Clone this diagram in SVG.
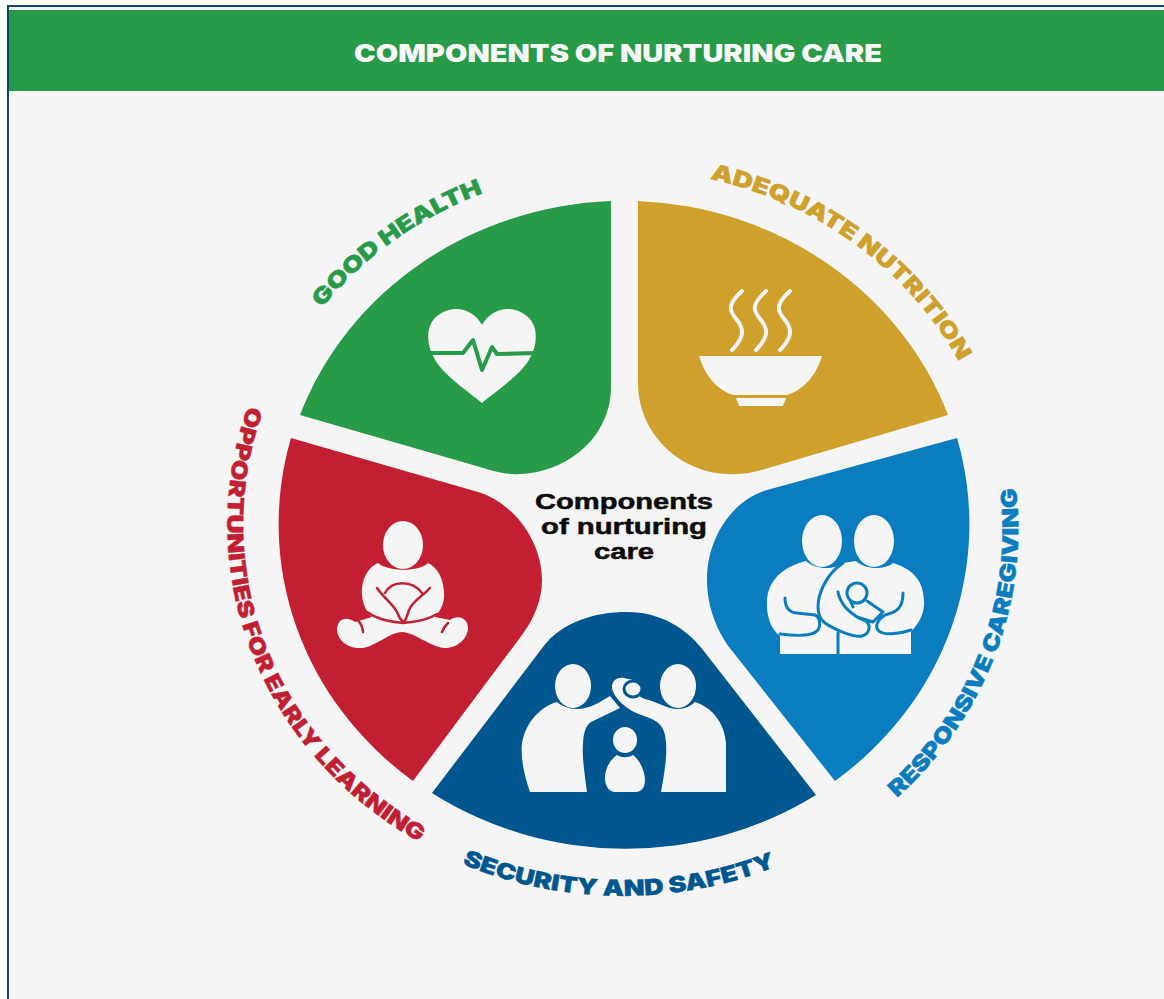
<svg xmlns="http://www.w3.org/2000/svg" width="1164" height="999" viewBox="0 0 1164 999">
<style>
.lab{font-family:"Inter","Liberation Sans",sans-serif;font-weight:900;font-size:22px;stroke-width:.4}
.mid{font-family:"Liberation Sans",sans-serif;font-weight:700;font-size:22px;text-anchor:middle;fill:#0b0b0b;stroke:#0b0b0b;stroke-width:.5}
.ic{fill:#f5f5f5}
.st{fill:none;stroke-linecap:round;stroke-linejoin:round}
</style>
<defs>
<path id="pGood" d="M322 308 A380 357 0 0 1 560 173"/>
<path id="pAdq" d="M710 179 A378 355 0 0 1 1001 525"/>
<path id="pResp" d="M897 798 A397 373 0 0 0 985 380"/>
<path id="pSec" d="M462 864 A394 370 0 0 0 800 856"/>
<path id="pOpp" d="M248 406 A394 370 0 0 0 470 866"/>
</defs>
<rect width="1164" height="999" fill="#ffffff"/>
<rect x="7" y="5" width="1157" height="994" fill="#0f4470"/>
<rect x="9" y="7" width="1155" height="992" fill="#f5f5f5"/>
<g id="header">
<rect x="9" y="10" width="1155" height="81" fill="#279b48"/>
<text x="618" y="62" text-anchor="middle" textLength="528" lengthAdjust="spacingAndGlyphs" style="font-family:Inter,'Liberation Sans',sans-serif;font-weight:900;font-size:24px" fill="#f7f7f7">COMPONENTS OF NURTURING CARE</text>
</g>
<g id="connectors"></g>
<g id="good-health">
<path fill="#279b48" d="M611 201 A345.5 324.5 0 0 0 300 415 L480 467 C495 472 508 475 520 474 C570 472 611 435 611 387 Z"/>
<path class="ic" d="M482 403 C470 393 442 374 434 358 C425 342 426 322 440 314 C455 304 474 310 482 325 C490 310 509 304 524 314 C538 322 539 342 530 358 C522 374 494 393 482 403Z"/>
<path class="st" stroke="#279b48" stroke-width="4" d="M427 353 L463 353 L473 340 L482 370 L492 347 L497 354 L537 353"/>
<text class="lab" fill="#279b48" stroke="#279b48"><textPath href="#pGood" textLength="200" lengthAdjust="spacingAndGlyphs">GOOD HEALTH</textPath></text>
</g>
<g id="adequate-nutrition">
<path fill="#cfa02b" d="M638 201 A345.5 324.5 0 0 1 948 415 L765 469 C752 473 740 475 727 474 C678 472 638 432 638 383 Z"/>
<path class="ic" d="M699 356 L822 356 C816 376 803 390 787 395 L733 395 C717 390 705 376 699 356Z"/>
<path class="ic" d="M736 398 L786 398 L783 406 L739 406Z"/>
<path class="st" stroke="#f5f5f5" stroke-width="4" d="M742 291 C728 304 728 310 737 320 C746 331 742 340 732 350 M766 291 C752 304 752 310 761 320 C770 331 766 340 756 350 M790 291 C776 304 776 310 785 320 C794 331 790 340 780 350"/>
<text class="lab" fill="#cfa02b" stroke="#cfa02b"><textPath href="#pAdq" textLength="318" lengthAdjust="spacingAndGlyphs">ADEQUATE NUTRITION</textPath></text>
</g>
<g id="responsive-caregiving">
<path fill="#0a7dc1" d="M957 438 A345.5 324.5 0 0 1 835 781 L733 652 C718 634 707 608 707 580 C707 535 735 499 767 490 Z"/>
<ellipse class="ic" cx="822" cy="541" rx="20" ry="26"/>
<ellipse class="ic" cx="874" cy="541" rx="20" ry="26"/>
<path class="ic" d="M806 561 C790 565 769 575 767 600 C766 618 772 630 780 636 L780 654 L911 654 L911 632 C920 622 925 612 924 600 C923 582 915 570 893 563 C885 570 865 570 856 561 L843 563 C835 570 815 570 806 561Z"/>
<path class="st" stroke="#0a7dc1" stroke-width="3" d="M838 633 L838 654 M843 563 C825 575 818 595 818 607 C818 615 821 620 825 623 C835 630 855 638 862 636 C870 634 871 625 866 621 L859 618 M785 598 C785 610 792 613 797 613 L815 615 C820 617 821 625 818 630 C812 637 795 636 780 634 M838 592 C841 606 850 612 857 617 L873 622 L883 612 L867 601 M853 607 L850 600 M903 593 C903 608 897 612 885 615 C877 620 875 627 878 630 C882 636 900 634 911 630"/>
<circle class="st" stroke="#0a7dc1" stroke-width="3" cx="857" cy="593" r="10"/>
<text class="lab" fill="#0a7dc1" stroke="#0a7dc1"><textPath href="#pResp" textLength="345" lengthAdjust="spacingAndGlyphs">RESPONSIVE CAREGIVING</textPath></text>
</g>
<g id="security-and-safety">
<path fill="#00568f" d="M432 793 A345.5 324.5 0 0 0 816 795 L703 650 C686 628 660 612 627 612 C594 612 562 622 543 647 Z"/>
<ellipse class="ic" cx="573" cy="686" rx="18" ry="22"/>
<ellipse class="ic" cx="678" cy="686" rx="18" ry="22"/>
<path class="ic" d="M530 792 L587 792 C584 770 582 755 583 743 C584 730 586 726 591 722 L620 708 L610 696 C600 702 590 709 577 709 C568 709 562 706 557 702 C540 707 526 722 522 743 C520 760 526 780 530 792Z"/>
<path class="ic" d="M726 792 L661 792 C665 770 667 755 666 743 C665 730 662 726 657 722 C650 717 640 715 632 711 C622 705 612 695 612 687 C612 680 618 677 624 678 L633 680 C628 690 640 697 645 699 C660 703 668 709 677 709 C686 709 690 706 695 702 C710 707 724 720 726 743Z"/>
<ellipse class="ic" stroke="#00568f" stroke-width="3" cx="633" cy="689" rx="9" ry="8"/>
<ellipse class="ic" cx="625" cy="740" rx="12" ry="13"/>
<path class="ic" d="M617 755 C609 760 604 772 605 780 C606 788 610 792 615 792 L636 792 C641 792 645 788 645 780 C645 772 640 760 633 755 C628 758 622 758 617 755Z"/>
<text class="lab" fill="#00568f" stroke="#00568f"><textPath href="#pSec" textLength="322" lengthAdjust="spacingAndGlyphs">SECURITY AND SAFETY</textPath></text>
</g>
<g id="opportunities-for-early-learning">
<path fill="#c31f33" d="M291 438 A345.5 324.5 0 0 0 413 781 L522 635 C534 619 542 600 542 580 C542 540 512 502 478 492 Z"/>
<ellipse class="ic" cx="403" cy="545" rx="20" ry="24"/>
<path class="ic" d="M378 563 C368 567 361 580 362 595 C363 607 368 613 372 617 L355 622 C345 615 337 620 337 630 C338 642 350 649 362 648 C375 647 390 632 402 632 C414 632 430 647 445 648 C458 648 468 638 468 628 C468 618 458 614 450 620 L435 617 C441 610 445 602 444 592 C443 578 438 568 428 563 C420 572 388 572 378 563Z"/>
<path class="st" stroke="#c31f33" stroke-width="2.5" d="M377 588 C383 597 392 603 397 612 C399 618 401 620 403 622 M430 588 C422 597 413 600 409 610 C407 616 406 620 404 622 M385 593 C392 580 412 580 422 593 M367 612 C378 620 390 622 403 623 C416 622 428 620 437 614 M358 620 C361 624 363 628 363 632 M448 623 C445 626 443 629 442 632"/>
<text class="lab" fill="#c31f33" stroke="#c31f33"><textPath href="#pOpp" textLength="510" lengthAdjust="spacingAndGlyphs">OPPORTUNITIES FOR EARLY LEARNING</textPath></text>
</g>
<g id="center">
<text class="mid" x="624" y="509" textLength="178" lengthAdjust="spacingAndGlyphs">Components</text>
<text class="mid" x="624" y="534" textLength="166" lengthAdjust="spacingAndGlyphs">of nurturing</text>
<text class="mid" x="624" y="559" textLength="60" lengthAdjust="spacingAndGlyphs">care</text>
</g>
</svg>
